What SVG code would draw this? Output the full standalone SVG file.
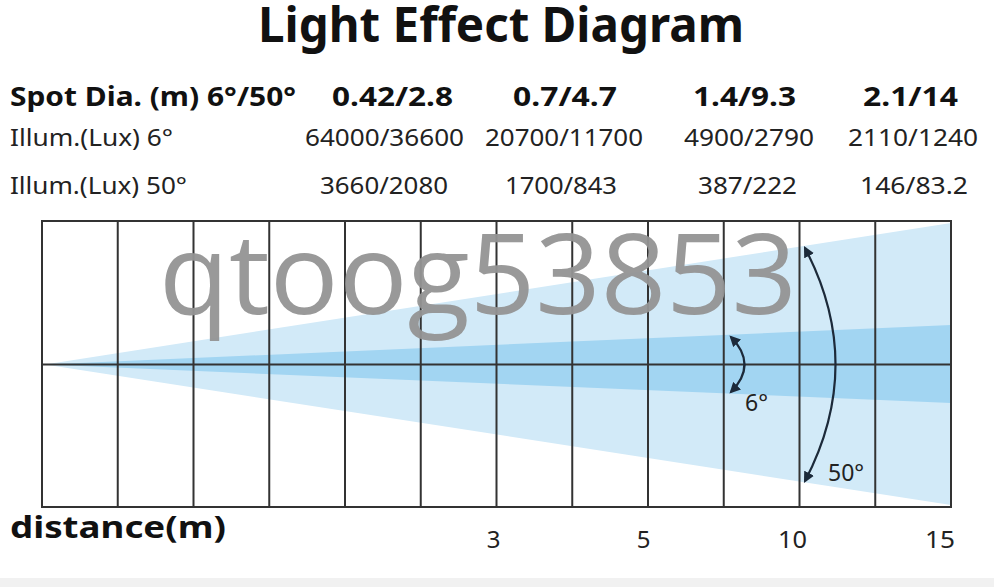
<svg xmlns="http://www.w3.org/2000/svg" width="994" height="587" viewBox="0 0 994 587">
<style>
.title{font-family:"Noto Sans","Open Sans",sans-serif;font-weight:bold;font-size:48px;fill:#111}
.h1{font-family:"Noto Sans","Open Sans",sans-serif;font-weight:bold;font-size:27px;fill:#111}
.h2{font-family:"Noto Sans","Open Sans",sans-serif;font-size:24px;fill:#222}
.ax{font-family:"Noto Sans","Open Sans",sans-serif;font-size:24px;fill:#222}
.lbl{font-family:"Noto Sans","Open Sans",sans-serif;font-size:23px;fill:#222}
.grid{stroke:#333;stroke-width:2;fill:none}
.arc{stroke:#1c2a3a;stroke-width:2.2;fill:none}
.wm{font-family:"Open Sans","Noto Sans",sans-serif;font-size:112px;fill:#949494;opacity:0.95}
</style>
<defs>
<marker id="ah" viewBox="0 0 10 10" refX="8" refY="5" markerWidth="5" markerHeight="5" orient="auto-start-reverse" markerUnits="strokeWidth">
<path d="M0,0 L10,5 L0,10 z" fill="#1c2a3a"/>
</marker>
</defs>
<rect x="0" y="0" width="994" height="587" fill="#fff"/>
<rect x="0" y="578" width="994" height="9" fill="#f1f1f1"/>
<g id="title"><text class="title" x="258" y="42" textLength="486" lengthAdjust="spacingAndGlyphs">Light Effect Diagram</text></g>
<g id="table">
<text class="h1" x="10" y="106" textLength="286" lengthAdjust="spacingAndGlyphs">Spot Dia. (m) 6°/50°</text>
<text class="h1" x="332" y="106" textLength="121" lengthAdjust="spacingAndGlyphs">0.42/2.8</text>
<text class="h1" x="513" y="106" textLength="104" lengthAdjust="spacingAndGlyphs">0.7/4.7</text>
<text class="h1" x="693" y="106" textLength="103" lengthAdjust="spacingAndGlyphs">1.4/9.3</text>
<text class="h1" x="863" y="106" textLength="95" lengthAdjust="spacingAndGlyphs">2.1/14</text>
<text class="h2" x="10" y="146" textLength="163" lengthAdjust="spacingAndGlyphs">Illum.(Lux) 6°</text>
<text class="h2" x="305" y="146" textLength="159" lengthAdjust="spacingAndGlyphs">64000/36600</text>
<text class="h2" x="485" y="146" textLength="158" lengthAdjust="spacingAndGlyphs">20700/11700</text>
<text class="h2" x="684" y="146" textLength="130" lengthAdjust="spacingAndGlyphs">4900/2790</text>
<text class="h2" x="848" y="146" textLength="130" lengthAdjust="spacingAndGlyphs">2110/1240</text>
<text class="h2" x="10" y="194" textLength="177" lengthAdjust="spacingAndGlyphs">Illum.(Lux) 50°</text>
<text class="h2" x="320" y="194" textLength="128" lengthAdjust="spacingAndGlyphs">3660/2080</text>
<text class="h2" x="505" y="194" textLength="112" lengthAdjust="spacingAndGlyphs">1700/843</text>
<text class="h2" x="698" y="194" textLength="99" lengthAdjust="spacingAndGlyphs">387/222</text>
<text class="h2" x="860" y="194" textLength="108" lengthAdjust="spacingAndGlyphs">146/83.2</text>
</g>
<g id="beam">
<polygon points="45,364.5 951,223 951,505" fill="#d2eaf8"/>
<polygon points="45,364.5 951,325 951,403" fill="#a2d5f2"/>
</g>
<g id="grid">
<rect class="grid" x="42" y="221" width="909" height="286"/>
<line class="grid" x1="42" y1="364.5" x2="951" y2="364.5"/>
<line class="grid" x1="117.75" y1="221" x2="117.75" y2="507"/>
<line class="grid" x1="193.5" y1="221" x2="193.5" y2="507"/>
<line class="grid" x1="269.25" y1="221" x2="269.25" y2="507"/>
<line class="grid" x1="345" y1="221" x2="345" y2="507"/>
<line class="grid" x1="420.75" y1="221" x2="420.75" y2="507"/>
<line class="grid" x1="496.5" y1="221" x2="496.5" y2="507"/>
<line class="grid" x1="572.25" y1="221" x2="572.25" y2="507"/>
<line class="grid" x1="648" y1="221" x2="648" y2="507"/>
<line class="grid" x1="723.75" y1="221" x2="723.75" y2="507"/>
<line class="grid" x1="799.5" y1="221" x2="799.5" y2="507"/>
<line class="grid" x1="875.25" y1="221" x2="875.25" y2="507"/>
</g>
<g id="connectors">
<path class="arc" d="M731,337 Q758,364.5 731,392" marker-start="url(#ah)" marker-end="url(#ah)"/>
<path class="arc" d="M805,248 Q866,364.5 805,481" marker-start="url(#ah)" marker-end="url(#ah)"/>
</g>
<g id="labels">
<text class="lbl" x="745" y="411">6°</text>
<text class="lbl" x="828" y="481">50°</text>
</g>
<g id="axis">
<text class="title" style="font-size:30px" x="10" y="538" textLength="216" lengthAdjust="spacingAndGlyphs">distance(m)</text>
<text class="ax" x="493.5" y="548" text-anchor="middle">3</text>
<text class="ax" x="643.5" y="548" text-anchor="middle">5</text>
<text class="ax" x="792.5" y="548" text-anchor="middle" textLength="29" lengthAdjust="spacingAndGlyphs">10</text>
<text class="ax" x="940" y="548" text-anchor="middle" textLength="30" lengthAdjust="spacingAndGlyphs">15</text>
</g>
<g id="watermark"><text class="wm" x="159" y="314" textLength="638" lengthAdjust="spacingAndGlyphs">qtoog53853</text></g>
</svg>
